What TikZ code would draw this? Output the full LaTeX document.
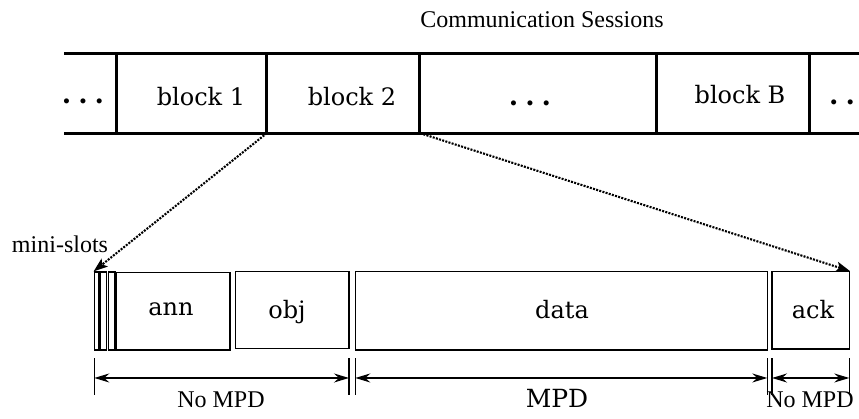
\documentclass[tikz,border=0pt]{standalone}
\usepackage{fontspec}
\setmainfont{Liberation Serif}
\newfontfamily\blockfont{DejaVu Serif}
\usetikzlibrary{arrows.meta,calc}

\tikzset{
  bar/.style={line width=2.8pt, line cap=rect},
  cell/.style={draw=none, inner sep=0pt, anchor=center},
  frame/.style={draw, line width=1.3pt, inner sep=0pt, anchor=center},
  blocklabel/.style={font=\blockfont\fontsize{24}{24}\selectfont, inner sep=0pt, anchor=base},
  caption/.style={font=\fontsize{24}{24}\selectfont, inner sep=0pt, anchor=base},
  dots/.style={font=\blockfont\bfseries\fontsize{27}{27}\selectfont, inner sep=0pt, anchor=base},
  zoomline/.style={line width=2.1pt, dash pattern=on 2pt off 1.3pt,
    -{Stealth[length=14pt, width=10pt, inset=3pt]}},
  tick/.style={line width=1.2pt},
  span/.style={line width=1.3pt,
    {Stealth[length=15pt, width=9pt, inset=5pt]}-{Stealth[length=15pt, width=9pt, inset=5pt]}}
}

\begin{document}
\begin{tikzpicture}[x=1pt, y=-1pt]
  \useasboundingbox (0,0) rectangle (859,418);

  % title
  \node[caption] (title) at (542,27) {Communication Sessions};

  % cells of the session bar
  \node[cell, minimum width=51pt,  minimum height=79pt] (c0) at (91.5,93.5) {};
  \node[cell, minimum width=150pt, minimum height=79pt] (b1) at (192,93.5) {};
  \node[cell, minimum width=153pt, minimum height=79pt] (b2) at (343.5,93.5) {};
  \node[cell, minimum width=237pt, minimum height=79pt] (c3) at (538.5,93.5) {};
  \node[cell, minimum width=153pt, minimum height=79pt] (bB) at (733.5,93.5) {};
  \node[cell, minimum width=60pt,  minimum height=79pt] (c5) at (840,93.5) {};

  \draw[bar] (c0.north west) -- (c5.north east);
  \draw[bar] (c0.south west) -- (c5.south east);
  \foreach \c in {b1,b2,c3,bB,c5}
    \draw[bar] (\c.north west) -- (\c.south west);

  \node[dots]       (d0) at (83,103)  {.\hspace{7pt}.\hspace{7pt}.};
  \node[blocklabel] (l1) at (201,105) {block 1};
  \node[blocklabel] (l2) at (352,105) {block 2};
  \node[dots]       (d3) at (530,105) {.\hspace{7pt}.\hspace{7pt}.};
  \node[blocklabel] (lB) at (740,103) {block B};
  \node[dots, anchor=base west] (d5) at (829,104) {.\hspace{7pt}.\hspace{7pt}.};

  % detailed view of one block
  \node[frame, minimum width=4pt,     minimum height=78pt]   (s1)   at (96.3,311)   {};
  \node[frame, minimum width=6.7pt,   minimum height=78pt]   (s2)   at (103.3,311)  {};
  \node[frame, minimum width=6.7pt,   minimum height=78pt]   (s3)   at (111.7,311)  {};
  \node[frame, minimum width=113.7pt, minimum height=77.3pt] (ann)  at (173.2,311.4) {};
  \node[frame, minimum width=113.7pt, minimum height=77pt]   (obj)  at (292.2,309.8) {};
  \node[frame, minimum width=412pt,   minimum height=78.3pt] (data) at (561.3,310.9) {};
  \node[frame, minimum width=77.3pt,  minimum height=77.3pt] (ack)  at (810.7,310.4) {};

  \node[blocklabel] (lann)  at (171,315) {ann};
  \node[blocklabel] (lobj)  at (287,318) {obj};
  \node[blocklabel] (ldata) at (562,318) {data};
  \node[blocklabel] (lack)  at (813,318) {ack};

  \node[caption] (mini) at (60,252) {mini-slots};

  % zoom connectors from block 2
  \draw[zoomline] (b2.south west) -- (s1.north west);
  \draw[zoomline] (b2.south east) -- (ack.north east);

  % dimension ticks
  \coordinate (t1a) at (94.3,358);  \coordinate (t1b) at (94.3,395);
  \coordinate (t2a) at (349,358);   \coordinate (t2b) at (349,395);
  \coordinate (t3a) at (355.3,358); \coordinate (t3b) at (355.3,395);
  \coordinate (t4a) at (767.3,358); \coordinate (t4b) at (767.3,395);
  \coordinate (t5a) at (772,358);   \coordinate (t5b) at (772,395);
  \coordinate (t6a) at (849.3,358); \coordinate (t6b) at (849.3,395);
  \foreach \t in {1,...,6}
    \draw[tick] (t\t a) -- (t\t b);

  \draw[span] ($(t1a)!0.54!(t1b)$) -- ($(t2a)!0.54!(t2b)$);
  \draw[span] ($(t3a)!0.54!(t3b)$) -- ($(t4a)!0.54!(t4b)$);
  \draw[span] ($(t5a)!0.54!(t5b)$) -- ($(t6a)!0.54!(t6b)$);

  \node[caption] (nm1) at (221,407) {No MPD};
  \node[blocklabel, font=\blockfont\fontsize{25}{25}\selectfont] (mpd) at (557,407) {MPD};
  \node[caption] (nm2) at (810,407) {No MPD};
\end{tikzpicture}
\end{document}
